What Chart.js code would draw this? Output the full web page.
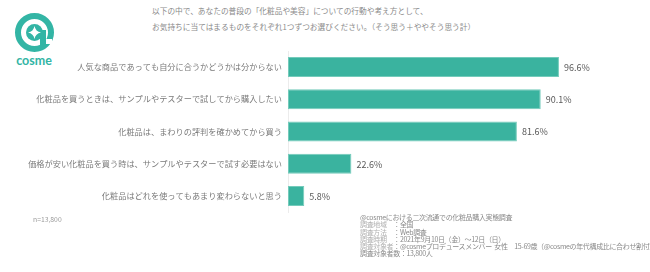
<!DOCTYPE html>
<html>
<head>
<meta charset="utf-8">
<script src="https://cdn.jsdelivr.net/npm/chart.js@4"></script>
<style>
  html, body { margin: 0; padding: 0; background: #fff; }
  body { width: 650px; height: 272px; position: relative; overflow: hidden;
         font-family: "Noto Sans CJK JP", "Noto Sans", sans-serif; }
  #chartBox { position: absolute; left: 0; top: 0; width: 650px; height: 272px; }
  .title { position: absolute; left: 152px; color: #8a8a8a; font-size: 7.7px; white-space: nowrap; }
  #logo { position: absolute; left: 10px; top: 10px; }
  #sample { position: absolute; left: 33px; top: 214px; font-size: 6.8px; color: #9a9a9a; }
  #notes { position: absolute; left: 360px; top: 214px; font-size: 7px; letter-spacing: -0.35px;
           line-height: 7.3px; color: #8a8a8a; white-space: pre; }
  #notes .dim { color: #b0b0b0; }
</style>
</head>
<body>
<div class="title" style="top:5px">以下の中で、あなたの普段の「化粧品や美容」についての行動や考え方として、</div>
<div class="title" style="top:21px">お気持ちに当てはまるものをそれぞれ1つずつお選びください。（そう思う＋ややそう思う計）</div>

<svg id="logo" width="52" height="60" viewBox="0 0 52 60">
  <circle cx="24.5" cy="22.5" r="16.5" fill="none" stroke="#33b5a5" stroke-width="6"/>
  <circle cx="24.5" cy="22.5" r="8.5" fill="#33b5a5"/>
  <rect x="30" y="20" width="6" height="18" fill="#33b5a5"/>
  <rect x="36" y="29" width="6" height="5" fill="#fff"/>
  <path d="M24.5 16 Q25.5 21.5 31 22.5 Q25.5 23.5 24.5 29 Q23.5 23.5 18 22.5 Q23.5 21.5 24.5 16 Z" fill="#fff"/>
  <text x="24" y="55" text-anchor="middle" font-family="Lato, sans-serif" font-size="12.5" font-weight="bold" fill="#33b5a5">cosme</text>
</svg>

<div id="chartBox"><canvas id="barChart"></canvas></div>

<div id="sample">n=13,800</div>
<div id="notes">@cosmeにおける二次流通での化粧品購入実態調査
<span class="dim">調査地域</span>　：全国
<span class="dim">調査方法</span>　：Web調査
<span class="dim">調査時期</span>　：2021年9月10日（金）～12日（日）
<span class="dim">調査対象者</span>：@cosmeプロデュースメンバー  女性　15-69歳（@cosmeの年代構成比に合わせ割付）
調査対象者数：13,800人</div>

<script>
const categories = [
    '人気な商品であっても自分に合うかどうかは分からない',
    '化粧品を買うときは、サンプルやテスターで試してから購入したい',
    '化粧品は、まわりの評判を確かめてから買う',
    '価格が安い化粧品を買う時は、サンプルやテスターで試す必要はない',
    '化粧品はどれを使ってもあまり変わらないと思う'
];
const agreeValues = [96.6, 90.1, 81.6, 22.6, 5.8];

const valueLabels = {
    id: 'valueLabels',
    afterDatasetsDraw(chart) {
        const ctx = chart.ctx;
        const meta = chart.getDatasetMeta(0);
        ctx.save();
        ctx.font = '9px "Noto Sans CJK JP", sans-serif';
        ctx.fillStyle = '#595959';
        ctx.textBaseline = 'middle';
        ctx.textAlign = 'left';
        meta.data.forEach((bar, i) => {
            ctx.fillText(agreeValues[i].toFixed(1) + '%', bar.x + 5, bar.y + 0.5);
        });
        ctx.restore();
    }
};

const ctx = document.getElementById('barChart').getContext('2d');
const chart = new Chart(ctx, {
    type: 'bar',
    data: {
        labels: categories,
        datasets: [{
            data: agreeValues,
            backgroundColor: '#3ab39f',
            borderColor: '#74cbbb',
            borderWidth: 1,
            borderSkipped: false,
            categoryPercentage: 0.62,
            barPercentage: 1
        }]
    },
    options: {
        indexAxis: 'y',
        responsive: true,
        maintainAspectRatio: false,
        animation: false,
        layout: { padding: { top: 51, bottom: 60, left: 0, right: 81.5 } },
        plugins: {
            legend: { display: false },
            tooltip: { enabled: false }
        },
        scales: {
            x: { display: false, min: 0, max: 100 },
            y: {
                afterFit: scale => { scale.width = 288; },
                grid: { display: false, drawTicks: false },
                border: { display: true, color: '#ececec', width: 1 },
                ticks: {
                    padding: 6,
                    color: '#7a7a7a',
                    font: { family: '"Noto Sans CJK JP", sans-serif', size: 8.2 }
                }
            }
        }
    },
    plugins: [valueLabels]
});
</script>
</body>
</html>
